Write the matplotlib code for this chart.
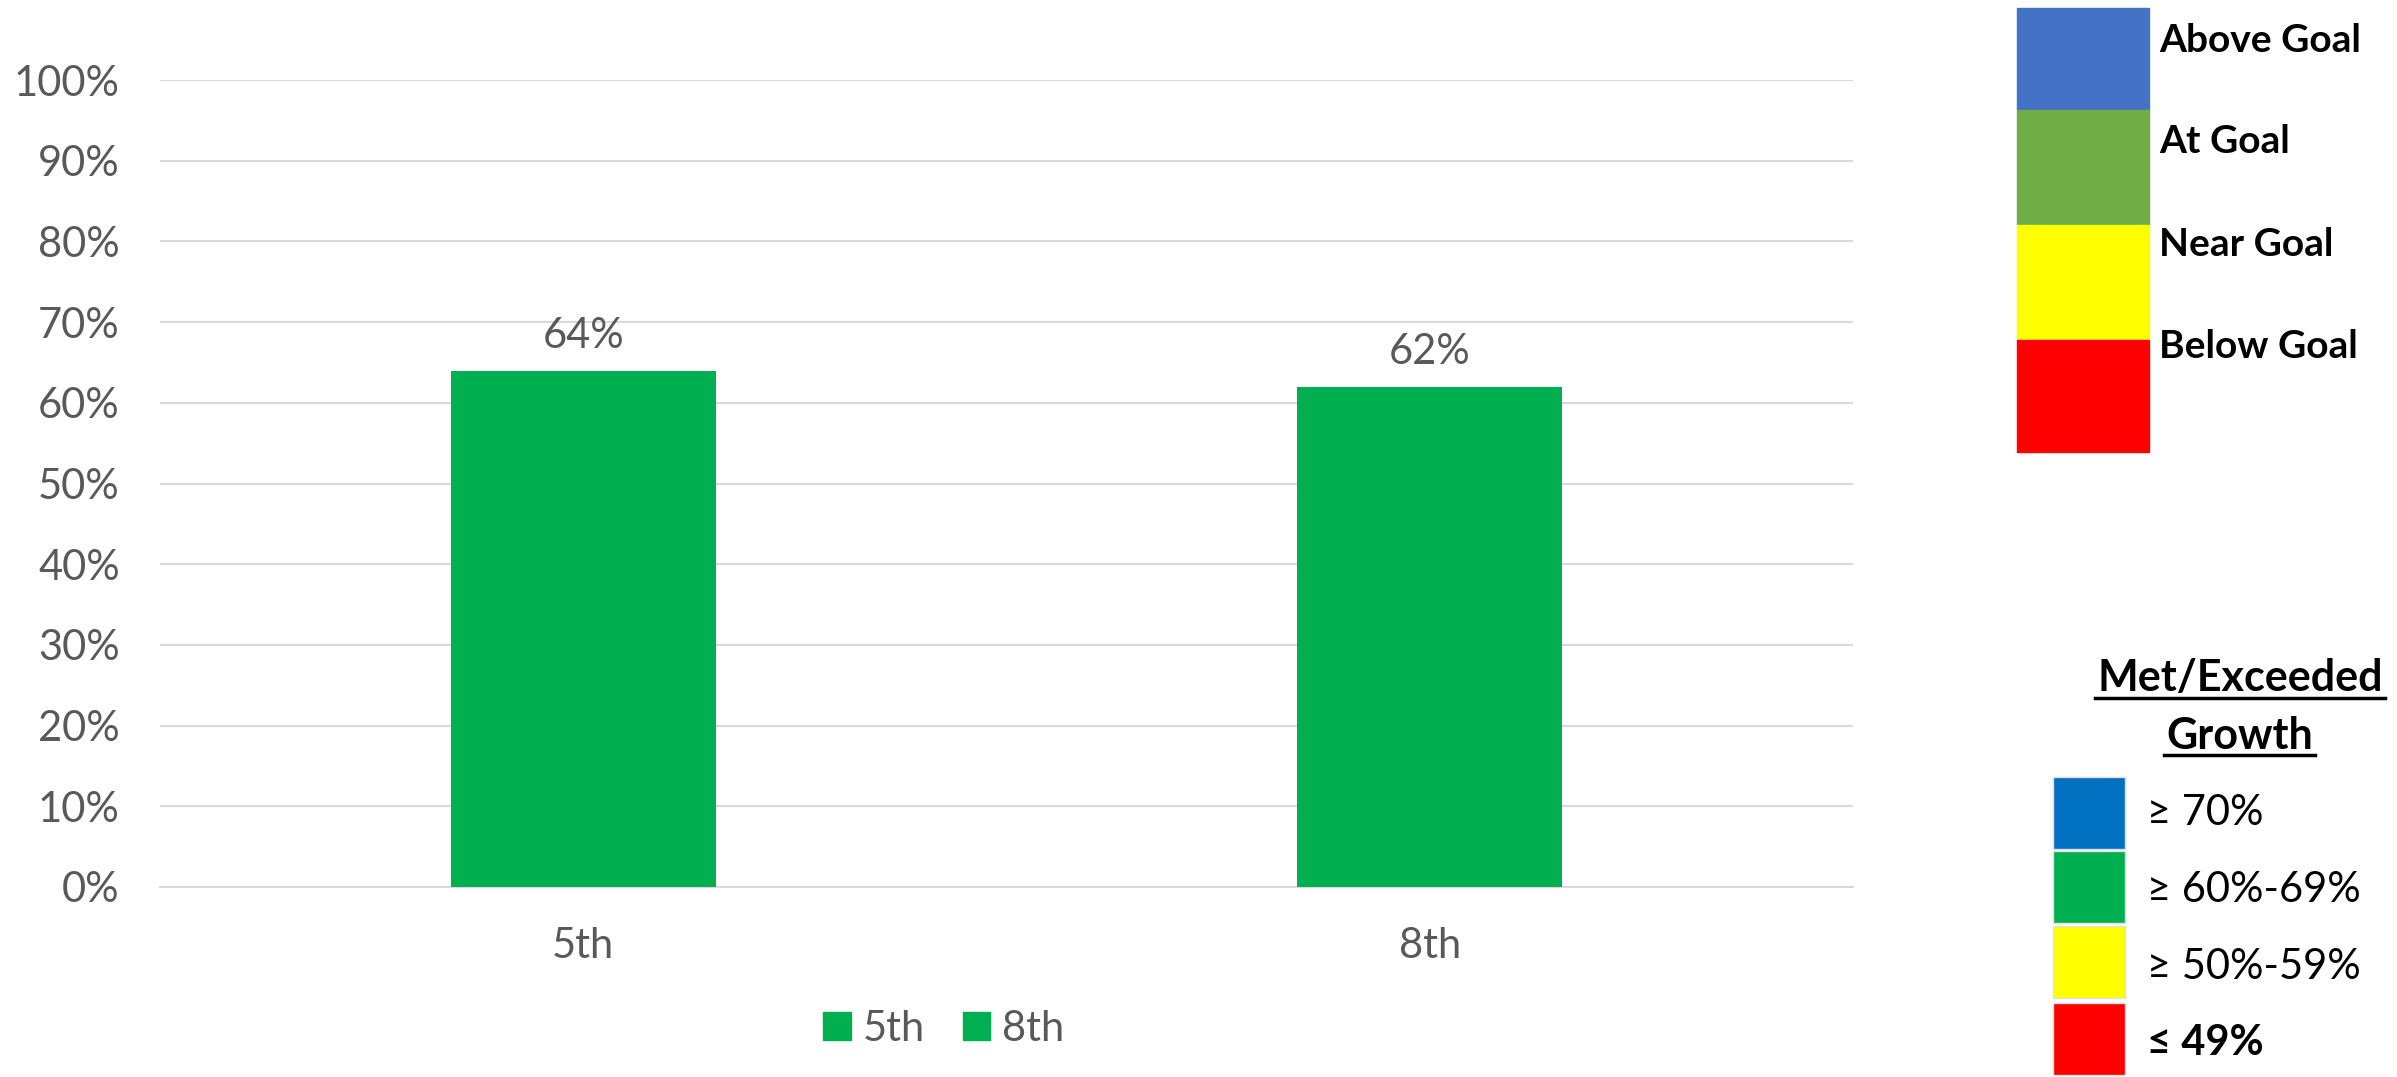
import matplotlib
matplotlib.use("Agg")
import matplotlib.pyplot as plt
from matplotlib.patches import Rectangle
from matplotlib.ticker import PercentFormatter

categories = ["5th", "8th"]
values = [0.64, 0.62]
yticks = [0, 0.1, 0.2, 0.3, 0.4, 0.5, 0.6, 0.7, 0.8, 0.9, 1.0]

goal_labels = ["Above Goal", "At Goal", "Near Goal", "Below Goal"]
goal_colors = ["#4472c4", "#70ad47", "#ffff00", "#ff0000"]

growth_title = ["Met/Exceeded", "Growth"]
growth_labels = ["\u2265 70%", "\u2265 60%-69%", "\u2265 50%-59%", "\u2264 49%"]
growth_colors = ["#0070c0", "#00b050", "#ffff00", "#ff0000"]

bar_color = "#00b050"
txt = "#595959"
FONT = "Lato"

W, H = 2397, 1077
fig = plt.figure(figsize=(W / 100, H / 100), dpi=100)

def fx(px):
    return px / W

def fy(py):
    return 1 - py / H

ax = fig.add_axes([fx(160), fy(887), fx(1853 - 160), (887 - 80) / H])
x = list(range(len(categories)))
bars = ax.bar(x, values, width=0.3125, color=bar_color, zorder=3)
ax.set_xlim(-0.5, len(categories) - 0.5)
ax.set_ylim(0, 1.0)
ax.set_yticks(yticks)
ax.yaxis.set_major_formatter(PercentFormatter(1.0, decimals=0))
ax.set_xticks(x)
ax.set_xticklabels(categories)
ax.grid(axis="y", color="#d9d9d9", linewidth=1.5, zorder=0)
ax.set_axisbelow(True)
for s in ["top", "right", "left"]:
    ax.spines[s].set_visible(False)
ax.spines["bottom"].set_color("#d9d9d9")
ax.spines["bottom"].set_linewidth(1.5)
ax.tick_params(axis="both", length=0, colors=txt, labelsize=30)
ax.tick_params(axis="y", pad=29)
ax.tick_params(axis="x", pad=29)
for lab in ax.get_xticklabels() + ax.get_yticklabels():
    lab.set_fontfamily(FONT)
for b, v in zip(bars, values):
    ax.annotate(f"{v:.0%}", (b.get_x() + b.get_width() / 2, v), xytext=(0, 11),
                textcoords="offset points", ha="center", va="bottom",
                fontsize=30, color=txt, family=FONT)

handles = [Rectangle((0, 0), 1, 1, color=bar_color) for _ in categories]
fig.legend(handles, categories, loc="center", bbox_to_anchor=(fx(944), fy(1029)),
           ncol=2, frameon=False, prop={"family": FONT, "size": 30},
           labelcolor=txt, handlelength=0.65, handleheight=0.65,
           handletextpad=0.3, columnspacing=0.9)

# Goal legend (top right)
bounds = [8, 110, 225, 340, 452]
label_y = [40, 142, 245, 347]
for i, (lab, col) in enumerate(zip(goal_labels, goal_colors)):
    fig.patches.append(Rectangle((fx(2017), fy(bounds[i + 1])), fx(2149 - 2017),
                                 (bounds[i + 1] - bounds[i]) / H, color=col,
                                 transform=fig.transFigure, figure=fig))
    fig.text(fx(2159), fy(label_y[i]), lab, ha="left", va="center",
             fontsize=28, fontweight="bold", family=FONT, color="black")

# Growth legend (bottom right)
fig.text(fx(2240), fy(678), growth_title[0], ha="center", va="center",
         fontsize=31, fontweight="bold", family=FONT, color="black")
fig.text(fx(2240), fy(736), growth_title[1], ha="center", va="center",
         fontsize=31, fontweight="bold", family=FONT, color="black")
fig.add_artist(plt.Line2D([fx(2095), fx(2385)], [fy(698), fy(698)], color="black", lw=2.5))
fig.add_artist(plt.Line2D([fx(2164), fx(2315)], [fy(755), fy(755)], color="black", lw=2.5))

box_top = [777, 851, 926, 1003]
box_h = 72
label_gy = [813, 890, 967, 1043]
for i, (lab, col) in enumerate(zip(growth_labels, growth_colors)):
    fig.patches.append(Rectangle((fx(2053), fy(box_top[i] + box_h)), fx(2125 - 2053),
                                 box_h / H, facecolor=col, edgecolor="#e0e0e0", lw=1,
                                 transform=fig.transFigure, figure=fig))
    fig.text(fx(2147), fy(label_gy[i]), lab, ha="left", va="center",
             fontsize=30, fontweight="bold" if i == 3 else "normal",
             family=[FONT, "DejaVu Sans"], color="black")

fig.savefig("out.png", dpi=100, facecolor="white")
